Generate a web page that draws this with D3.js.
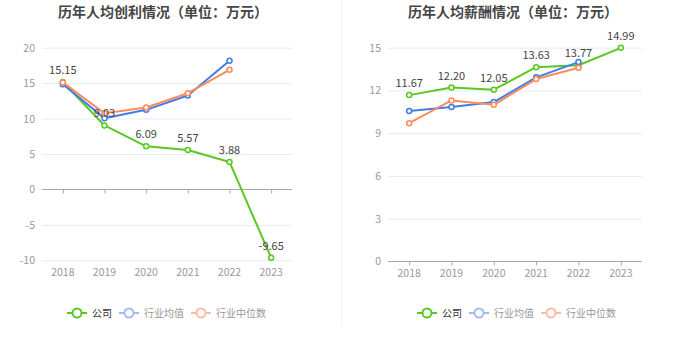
<!DOCTYPE html>
<html>
<head>
<meta charset="utf-8">
<script src="https://cdn.jsdelivr.net/npm/d3@7/dist/d3.min.js"></script>
<style>
  html, body { margin: 0; padding: 0; background: #fff; }
  svg { display: block; font-family: "Noto Sans CJK SC", "Noto Sans", sans-serif; }
</style>
</head>
<body>
<svg id="chart" width="680" height="349"></svg>
<script>
// 年份
const years = ["2018", "2019", "2020", "2021", "2022", "2023"];
// 人均创利（万元）
const profitCompany = [15.15, 9.03, 6.09, 5.57, 3.88, -9.65];
const profitIndustryAvg = [14.86, 10.05, 11.23, 13.26, 18.15, null];
const profitIndustryMedian = [15.1, 10.76, 11.56, 13.58, 16.88, null];
const profitTicks = [-10, -5, 0, 5, 10, 15, 20];
// 人均薪酬（万元）
const salaryCompany = [11.67, 12.20, 12.05, 13.63, 13.77, 14.99];
const salaryIndustryAvg = [10.55, 10.83, 11.18, 12.92, 13.99, null];
const salaryIndustryMedian = [9.70, 11.30, 10.99, 12.80, 13.59, null];
const salaryTicks = [0, 3, 6, 9, 12, 15];

const seriesNames = ["公司", "行业均值", "行业中位数"];
const colors = ["#5cc723", "#3f7ee8", "#ff8a5c"];
const legendColors = ["#5cc723", "#9fbcf3", "#ffbca3"];
const legendText = ["#333", "#999", "#999"];

const svg = d3.select("#chart");

// 中间分隔线
svg.append("line")
  .attr("x1", 341.5).attr("x2", 341.5)
  .attr("y1", 0).attr("y2", 325)
  .attr("stroke", "#f0f0f0")
  .attr("stroke-width", 1);

function drawPanel({ title, titleX, left, right, top, bottom, ticks, series, legendX }) {
  const g = svg.append("g");
  const x = d3.scalePoint(years, [left, right]).padding(0.5);
  const y = d3.scaleLinear([ticks[0], ticks[ticks.length - 1]], [bottom, top]);

  g.append("text")
    .attr("x", titleX).attr("y", 17)
    .attr("text-anchor", "middle")
    .attr("font-size", 14)
    .attr("font-weight", "bold")
    .attr("fill", "#464646")
    .text(title);

  // 网格线
  g.append("g")
    .selectAll("line")
    .data(ticks.filter(t => t !== 0))
    .join("line")
    .attr("x1", left).attr("x2", right)
    .attr("y1", d => y(d) + 0.5).attr("y2", d => y(d) + 0.5)
    .attr("stroke", "#e6ebf5")
    .attr("stroke-width", 1);

  // y 轴刻度文字
  g.append("g")
    .selectAll("text")
    .data(ticks)
    .join("text")
    .attr("x", left - 7)
    .attr("y", d => y(d) + 4)
    .attr("text-anchor", "end")
    .attr("font-size", 10.5)
    .attr("fill", "#999")
    .text(d => d);

  // x 轴（在 0 位置）
  const axisG = g.append("g")
    .attr("transform", `translate(0, ${Math.round(y(0)) + 0.5})`)
    .call(d3.axisBottom(x).tickSize(4).tickSizeOuter(0).tickFormat(""));
  axisG.select(".domain").attr("stroke", "#a8a8a8").attr("d", `M${left},0H${right}`);
  axisG.selectAll(".tick line").attr("stroke", "#a8a8a8");

  g.append("g")
    .selectAll("text")
    .data(years)
    .join("text")
    .attr("x", d => x(d))
    .attr("y", bottom + 15.5)
    .attr("text-anchor", "middle")
    .attr("font-size", 10.5)
    .attr("fill", "#999")
    .text(d => d);

  const line = d3.line()
    .x(d => x(d[0]))
    .y(d => y(d[1]));

  series.forEach((vals, i) => {
    const pts = years.map((yr, j) => [yr, vals[j]]).filter(d => d[1] != null);
    const sg = g.append("g");
    sg.append("path")
      .datum(pts)
      .attr("d", line)
      .attr("fill", "none")
      .attr("stroke", colors[i])
      .attr("stroke-width", 2)
      .attr("stroke-linejoin", "round");
    sg.selectAll("circle")
      .data(pts)
      .join("circle")
      .attr("cx", d => x(d[0]))
      .attr("cy", d => y(d[1]))
      .attr("r", 2.5)
      .attr("fill", "#fff")
      .attr("stroke", colors[i])
      .attr("stroke-width", 1.5);
  });

  // 公司数据标签
  g.append("g")
    .selectAll("text")
    .data(years.map((yr, j) => [yr, series[0][j]]))
    .join("text")
    .attr("x", d => x(d[0]))
    .attr("y", d => y(d[1]) - 8)
    .attr("text-anchor", "middle")
    .attr("font-size", 11)
    .attr("fill", "#444")
    .text(d => d[1].toFixed(2));

  // 图例，按文字实际宽度排
  let lx = legendX;
  seriesNames.forEach((name, i) => {
    const lg = g.append("g").attr("transform", `translate(${lx}, 313)`);
    lg.append("line")
      .attr("x1", 0).attr("x2", 20)
      .attr("stroke", legendColors[i])
      .attr("stroke-width", 2);
    lg.append("circle")
      .attr("cx", 10).attr("r", 4.5)
      .attr("fill", "#fff")
      .attr("stroke", legendColors[i])
      .attr("stroke-width", 2);
    const t = lg.append("text")
      .attr("x", 25).attr("y", 3.5)
      .attr("font-size", 10)
      .attr("fill", legendText[i])
      .text(name);
    lx += 25 + t.node().getComputedTextLength() + 7;
  });
}

drawPanel({
  title: "历年人均创利情况（单位：万元）",
  titleX: 163,
  left: 42, right: 292, top: 47.7, bottom: 260.3,
  ticks: profitTicks,
  series: [profitCompany, profitIndustryAvg, profitIndustryMedian],
  legendX: 67
});

drawPanel({
  title: "历年人均薪酬情况（单位：万元）",
  titleX: 513,
  left: 388, right: 642, top: 47.7, bottom: 261.3,
  ticks: salaryTicks,
  series: [salaryCompany, salaryIndustryAvg, salaryIndustryMedian],
  legendX: 417
});
</script>
</body>
</html>
